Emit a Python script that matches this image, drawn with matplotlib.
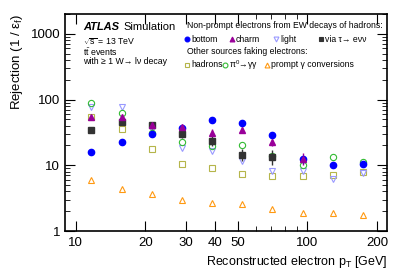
import numpy as np
import matplotlib
matplotlib.use("Agg")
import matplotlib.pyplot as plt
from matplotlib.lines import Line2D
from matplotlib.ticker import FixedLocator, NullFormatter, LogLocator

plt.rcParams['font.family'] = ['Liberation Sans', 'DejaVu Sans']
plt.rcParams['mathtext.fontset'] = 'custom'
plt.rcParams['mathtext.rm'] = 'Liberation Sans'
plt.rcParams['mathtext.it'] = 'Liberation Sans:italic'

# bin centres in reconstructed electron pT [GeV]
pt = [11.7, 15.8, 21.3, 28.8, 38.9, 52.5, 70.8, 95.5, 129, 174]

# rejection values (1 / eff)
bottom = [15.9, 22.5, 30.1, 37, 49, 44.7, 28.4, 12.5, 10, 10.6]
charm = [53.8, 55, 41, 38, 31.5, 34.6, 22.5, 12.6, np.nan, np.nan]
light = [76, 77.8, 36, 18.3, 16.3, 11.5, 8.1, 8.1, 6.2, 7.5]
tau = [34.3, 45.7, 41.2, 30.1, 23.6, 14.5, 13.5, np.nan, np.nan, np.nan]
hadrons = [54.9, 35, 17.7, 10.5, 9, 7.3, 6.75, 6.8, 7.0, 8.0]
pi0 = [87.7, 61.9, 30.5, 22.2, 19.4, 20.5, 14, 10.2, 13.4, 11.1]
conv = [5.9, 4.4, 3.7, 3.0, 2.7, 2.58, 2.16, 1.91, 1.85, 1.77]

charm_err = [3, 4, 4, 3, 4, 4, 3, 2.5, 0, 0]
tau_err = [2, 4, 5, 4, 4, 3, 3.5, 0, 0, 0]

W, H = 407, 276
fig = plt.figure(figsize=(W / 100, H / 100), dpi=100)
ax = fig.add_axes([65 / W, 1 - 231 / H, (387 - 65) / W, (231 - 14) / H])

ms = 4.5
c_blue = '#0000ff'
c_purple = '#990099'
c_light = '#9999ff'
c_black = '#333333'
c_olive = '#b5b54a'
c_green = '#33bb33'
c_orange = '#ff9911'

ax.plot(pt, conv, ls='none', marker='^', ms=ms, mfc='none', mec=c_orange, mew=0.8)
ax.plot(pt, hadrons, ls='none', marker='s', ms=ms, mfc='none', mec=c_olive, mew=0.8)
ax.plot(pt, light, ls='none', marker='v', ms=ms, mfc='none', mec=c_light, mew=0.8)
ax.plot(pt, pi0, ls='none', marker='o', ms=ms, mfc='none', mec=c_green, mew=0.8)
ax.errorbar(pt, tau, yerr=tau_err, ls='none', marker='s', ms=ms, color=c_black, elinewidth=1)
ax.errorbar(pt, charm, yerr=charm_err, ls='none', marker='^', ms=ms, color=c_purple, elinewidth=1)
ax.plot(pt, bottom, ls='none', marker='o', ms=ms, color=c_blue)

ax.set_xscale('log')
ax.set_yscale('log')
ax.set_xlim(9, 221)
ax.set_ylim(1, 2000)

ax.xaxis.set_major_locator(FixedLocator([10, 20, 30, 40, 50, 100, 200]))
ax.xaxis.set_minor_locator(FixedLocator([60, 70, 80, 90]))
ax.xaxis.set_minor_formatter(NullFormatter())
ax.set_xticklabels(['10', '20', '30', '40', '50', '100', '200'])
ax.yaxis.set_major_locator(FixedLocator([1, 10, 100, 1000]))
ax.yaxis.set_minor_locator(LogLocator(base=10, subs=np.arange(2, 10)))
ax.yaxis.set_minor_formatter(NullFormatter())
ax.set_yticklabels(['1', '10', '100', '1000'])

ax.tick_params(which='both', direction='in', top=True, right=True, labelsize=9.5)
ax.tick_params(which='major', length=7)
ax.tick_params(which='minor', length=3.5)
ax.tick_params(axis='x', which='major', pad=4)
for s in ax.spines.values():
    s.set_linewidth(1.2)

ax.set_xlabel(r'Reconstructed electron p$_\mathrm{T}$ [GeV]', fontsize=9, loc='right')
ax.set_ylabel(r'Rejection (1 / ε$_\mathrm{f}$)', fontsize=9.5, loc='top')

# ATLAS label block
fig.text(83 / W, 1 - 27 / H, 'ATLAS', fontsize=8, fontweight='bold', style='italic', va='center')
fig.text(123 / W, 1 - 27 / H, 'Simulation', fontsize=8, va='center')
fig.text(83 / W, 1 - 42 / H, r'$\sqrt{\mathrm{s}}$ = 13 TeV', fontsize=6.3, va='center')
fig.text(83 / W, 1 - 52 / H, r'$\mathrm{t\bar{t}}$ events', fontsize=6.3, va='center')
fig.text(83 / W, 1 - 62 / H, 'with ≥ 1 W→ lν decay', fontsize=6.3, va='center')

# legend
lfs = 6.2
fig.text(187 / W, 1 - 26 / H, 'Non-prompt electrons from EW decays of hadrons:', fontsize=lfs, va='center')
fig.text(187 / W, 1 - 52 / H, 'Other sources faking electrons:', fontsize=lfs, va='center')
entries = [
    (187, 39, 'o', c_blue, c_blue, 'bottom'),
    (231.5, 39, '^', c_purple, c_purple, 'charm'),
    (276, 39, 'v', 'none', c_light, 'light'),
    (321, 39, 's', c_black, c_black, 'via τ→ eνν'),
    (187, 65, 's', 'none', c_olive, 'hadrons'),
    (225, 65, 'o', 'none', c_green, 'π$^0$→γγ'),
    (267, 65, '^', 'none', c_orange, 'prompt γ conversions'),
]
for lx, ly, m, fc, ec, lab in entries:
    fig.add_artist(Line2D([lx / W], [1 - ly / H], marker=m, ms=3.5, mfc=fc, mec=ec,
                          mew=0.8, ls='none', transform=fig.transFigure))
    fig.text((lx + 4) / W, 1 - ly / H, lab, fontsize=lfs, va='center')

fig.savefig('out.png', dpi=100)
